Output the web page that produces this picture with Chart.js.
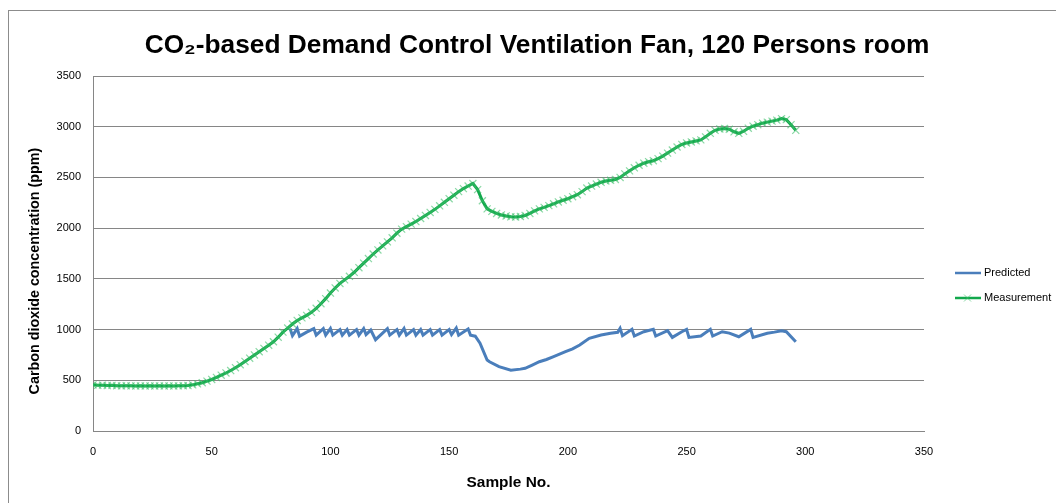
<!DOCTYPE html>
<html>
<head>
<meta charset="utf-8">
<script src="https://cdn.jsdelivr.net/npm/chart.js@4.4.1/dist/chart.umd.min.js"></script>
<style>
html, body { margin: 0; background: #fff; }
canvas { display: block; }
</style>
</head>
<body>
<canvas id="chart" width="1056" height="503"></canvas>
<script>
const chartTitle = 'CO₂-based Demand Control Ventilation Fan, 120 Persons room';
const xTitle = 'Sample No.';
const yTitle = 'Carbon dioxide concentration (ppm)';
const seriesNames = ['Predicted', 'Measurement'];

const xTicks = [0, 50, 100, 150, 200, 250, 300, 350];
const yTicks = [0, 500, 1000, 1500, 2000, 2500, 3000, 3500];

// measurement, read every 2nd sample
const sampleNo = [
    0, 2, 4, 6, 8, 10, 12, 14, 16, 18, 20, 22, 24, 26, 28, 30, 32, 34, 36, 38,
    40, 42, 44, 46, 48, 50, 52, 54, 56, 58, 60, 62, 64, 66, 68, 70, 72, 74, 76, 78,
    80, 82, 84, 86, 88, 90, 92, 94, 96, 98, 100, 102, 104, 106, 108, 110, 112, 114, 116, 118,
    120, 122, 124, 126, 128, 130, 132, 134, 136, 138, 140, 142, 144, 146, 148, 150, 152, 154, 156, 158,
    160, 162, 164, 166, 168, 170, 172, 174, 176, 178, 180, 182, 184, 186, 188, 190, 192, 194, 196, 198,
    200, 202, 204, 206, 208, 210, 212, 214, 216, 218, 220, 222, 224, 226, 228, 230, 232, 234, 236, 238,
    240, 242, 244, 246, 248, 250, 252, 254, 256, 258, 260, 262, 264, 266, 268, 270, 272, 274, 276, 278,
    280, 282, 284, 286, 288, 290, 292, 294, 296
];
const measured = [
    455, 450, 452, 448, 450, 446, 445, 446, 445, 444, 445, 444, 445, 444, 445, 444, 445, 444, 445, 446,
    448, 455, 465, 476, 492, 508, 528, 550, 572, 596, 624, 654, 686, 718, 750, 782, 814, 846, 880, 925,
    975, 1015, 1055, 1090, 1115, 1140, 1170, 1210, 1255, 1305, 1360, 1410, 1455, 1490, 1525, 1565, 1610, 1655, 1700, 1745,
    1785, 1825, 1865, 1905, 1950, 1990, 2015, 2040, 2065, 2095, 2125, 2155, 2185, 2220, 2255, 2290, 2325, 2360, 2390, 2415,
    2440, 2380, 2270, 2190, 2165, 2145, 2130, 2120, 2112, 2110, 2115, 2125, 2145, 2170, 2190, 2205, 2222, 2240, 2258, 2275,
    2290, 2310, 2330, 2360, 2395, 2415, 2435, 2452, 2465, 2472, 2480, 2500, 2535, 2565, 2595, 2620, 2640, 2655, 2665, 2685,
    2710, 2740, 2770, 2800, 2825, 2840, 2850, 2860, 2870, 2900, 2935, 2965, 2978, 2982, 2975, 2950, 2935, 2955, 2985, 3005,
    3020, 3035, 3045, 3055, 3065, 3080, 3070, 3020, 2965
];

// predicted, corner points of the line
const predSample = [
    83, 84, 86, 87, 90, 93, 94, 97, 98, 100, 101, 104, 105, 107, 108, 111, 112, 114, 115, 117,
    119, 124, 125, 128, 129, 131, 132, 135, 136, 138, 139, 142, 143, 146, 147, 150, 151, 153, 154, 157,
    158, 159, 161, 163, 166, 167, 171, 176, 180, 182, 185, 188, 191, 194, 199, 202, 205, 209, 214, 218,
    221, 222, 223, 227, 228, 232, 236, 237, 242, 244, 248, 250, 251, 256, 260, 261, 265, 268, 272, 277,
    278, 284, 287, 290, 292, 296
];
const predicted = [
    1010, 940, 1010, 935, 975, 1010, 945, 1010, 945, 1010, 945, 1000, 945, 1000, 945, 1000, 945, 1010, 950, 995,
    900, 1010, 945, 1000, 945, 1010, 945, 1000, 945, 1000, 945, 1000, 945, 1000, 945, 1000, 950, 1015, 945, 990,
    1005, 945, 935, 865, 700, 683, 635, 600, 610, 618, 650, 683, 705, 733, 782, 810, 848, 914, 946, 963,
    973, 1012, 940, 1002, 936, 979, 1002, 936, 989, 923, 979, 1002, 923, 936, 1002, 936, 979, 965, 929, 1002,
    923, 963, 975, 989, 979, 880
];

const blue = '#4a7ebb';
const green = '#12a84c';
const markGreen = 'rgba(60,190,105,0.6)';
const gridGray = '#868686';
const family = "'Liberation Sans Narrow', 'Liberation Sans', Arial, sans-serif";

// font size that makes text span the given width
function fitSize(text, weight, width) {
    const c = document.createElement('canvas').getContext('2d');
    c.font = `${weight} 100px ${family}`;
    return 100 * width / c.measureText(text).width;
}
const titleSize = fitSize(chartTitle, 'bold', 785);
const yTitleSize = fitSize(yTitle, 'bold', 247);
const xTitleSize = fitSize(xTitle, 'bold', 84);

const decorations = {
    id: 'decorations',
    beforeDraw(chart) {
        const ctx = chart.ctx;
        ctx.save();
        ctx.fillStyle = '#fff';
        ctx.fillRect(0, 0, chart.width, chart.height);
        ctx.strokeStyle = '#8c8c8c';
        ctx.lineWidth = 1;
        ctx.strokeRect(8.5, 10.5, 1200, 600);
        ctx.restore();
    },
    afterDraw(chart) {
        const ctx = chart.ctx;
        ctx.save();
        ctx.fillStyle = '#000';
        ctx.textAlign = 'center';
        ctx.textBaseline = 'alphabetic';
        ctx.font = `bold ${titleSize}px ${family}`;
        ctx.fillText(chartTitle, 537, 53);

        ctx.translate(35, 271);
        ctx.rotate(-Math.PI / 2);
        ctx.textBaseline = 'middle';
        ctx.font = `bold ${yTitleSize}px ${family}`;
        ctx.fillText(yTitle, 0, 0);
        ctx.restore();

        // legend
        ctx.save();
        ctx.font = "11px 'Liberation Sans', Arial, sans-serif";
        ctx.textBaseline = 'middle';
        ctx.textAlign = 'left';
        const rows = [273, 298];
        const colors = [blue, green];
        rows.forEach((y, i) => {
            ctx.strokeStyle = colors[i];
            ctx.lineWidth = 2.5;
            ctx.beginPath();
            ctx.moveTo(955, y);
            ctx.lineTo(981, y);
            ctx.stroke();
            if (i === 1) {
                ctx.strokeStyle = markGreen;
                ctx.lineWidth = 1;
                ctx.beginPath();
                ctx.moveTo(964, y - 3.5); ctx.lineTo(971, y + 3.5);
                ctx.moveTo(971, y - 3.5); ctx.lineTo(964, y + 3.5);
                ctx.stroke();
            }
            ctx.fillStyle = '#000';
            ctx.fillText(seriesNames[i], 984, y);
        });
        ctx.restore();
    }
};

const tickFont = { family: "'Liberation Sans', Arial, sans-serif", size: 11 };

new Chart(document.getElementById('chart').getContext('2d'), {
    type: 'line',
    data: {
        datasets: [
            {
                label: seriesNames[0],
                data: predSample.map((x, i) => ({ x, y: predicted[i] })),
                borderColor: blue,
                borderWidth: 3,
                pointRadius: 0,
                tension: 0,
                order: 1
            },
            {
                label: seriesNames[1],
                data: sampleNo.map((x, i) => ({ x, y: measured[i] })),
                borderColor: green,
                borderWidth: 3,
                pointStyle: 'crossRot',
                pointRadius: 5,
                pointBorderWidth: 1.2,
                pointBorderColor: markGreen,
                pointBackgroundColor: markGreen,
                tension: 0,
                order: 0
            }
        ]
    },
    options: {
        responsive: false,
        animation: false,
        devicePixelRatio: 1,
        layout: { padding: { top: 76, right: 132, bottom: 0, left: 0 } },
        plugins: {
            legend: { display: false },
            title: { display: false },
            tooltip: { enabled: false }
        },
        scales: {
            x: {
                type: 'linear',
                min: 0,
                max: 350,
                afterBuildTicks: s => { s.ticks = xTicks.map(v => ({ value: v })); },
                afterFit: s => { s.height = 72; },
                grid: { display: false, drawTicks: false },
                border: { display: true, color: gridGray, width: 1 },
                ticks: { padding: 14, color: '#000', font: tickFont, maxRotation: 0, callback: v => String(v) },
                title: {
                    display: true,
                    text: xTitle,
                    color: '#000',
                    font: { family, size: xTitleSize, weight: 'bold' },
                    padding: { top: 0, bottom: 11 }
                }
            },
            y: {
                min: 0,
                max: 3500,
                afterBuildTicks: s => { s.ticks = yTicks.map(v => ({ value: v })); },
                afterFit: s => { s.width = 93; },
                grid: { color: gridGray, lineWidth: 1, drawTicks: false },
                border: { display: true, color: gridGray, width: 1 },
                ticks: { padding: 12, color: '#000', font: tickFont, callback: v => String(v) }
            }
        }
    },
    plugins: [decorations]
});
</script>
</body>
</html>
